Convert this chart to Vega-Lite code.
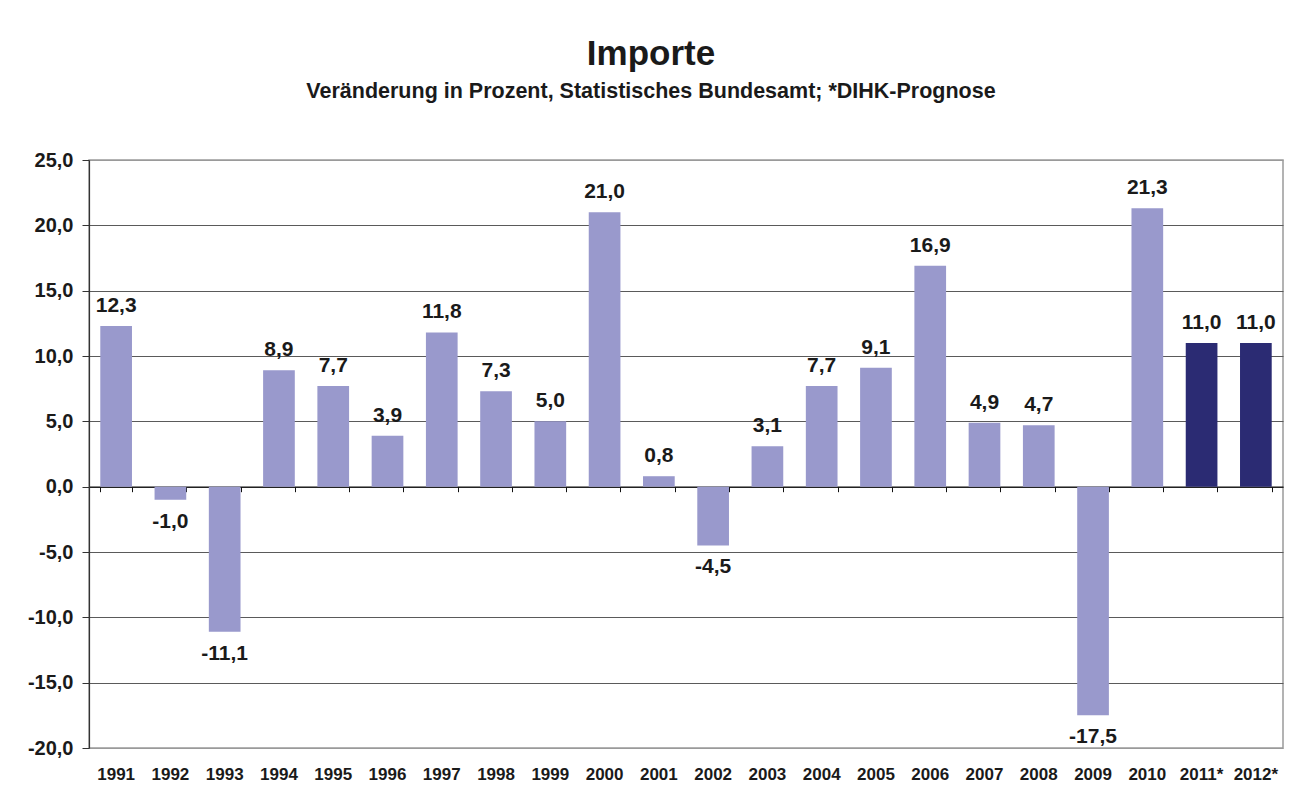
{
  "$schema": "https://vega.github.io/schema/vega-lite/v6.json",
  "width": 1194,
  "height": 588,
  "autosize": "none",
  "padding": {"left": 89, "top": 160, "right": 16, "bottom": 52},
  "background": "white",
  "config": {
    "font": "Liberation Sans",
    "locale": {"number": {"decimal": ",", "thousands": ".", "grouping": [3], "currency": ["", " €"], "minus": "-"}},
    "view": {"stroke": "#9a9a9a", "strokeWidth": 1.5}
  },
  "title": {
    "text": "Importe",
    "subtitle": "Veränderung in Prozent, Statistisches Bundesamt; *DIHK-Prognose",
    "anchor": "middle",
    "frame": "group",
    "dx": -35,
    "offset": 48,
    "fontSize": 35,
    "fontWeight": "bold",
    "color": "#1a1a1a",
    "subtitleFontSize": 21.5,
    "subtitleFontWeight": "bold",
    "subtitleColor": "#1a1a1a",
    "subtitlePadding": 9
  },
  "data": {
    "values": [
      {"jahr": "1991", "wert": 12.3, "art": "Ist"},
      {"jahr": "1992", "wert": -1.0, "art": "Ist"},
      {"jahr": "1993", "wert": -11.1, "art": "Ist"},
      {"jahr": "1994", "wert": 8.9, "art": "Ist"},
      {"jahr": "1995", "wert": 7.7, "art": "Ist"},
      {"jahr": "1996", "wert": 3.9, "art": "Ist"},
      {"jahr": "1997", "wert": 11.8, "art": "Ist"},
      {"jahr": "1998", "wert": 7.3, "art": "Ist"},
      {"jahr": "1999", "wert": 5.0, "art": "Ist"},
      {"jahr": "2000", "wert": 21.0, "art": "Ist"},
      {"jahr": "2001", "wert": 0.8, "art": "Ist"},
      {"jahr": "2002", "wert": -4.5, "art": "Ist"},
      {"jahr": "2003", "wert": 3.1, "art": "Ist"},
      {"jahr": "2004", "wert": 7.7, "art": "Ist"},
      {"jahr": "2005", "wert": 9.1, "art": "Ist"},
      {"jahr": "2006", "wert": 16.9, "art": "Ist"},
      {"jahr": "2007", "wert": 4.9, "art": "Ist"},
      {"jahr": "2008", "wert": 4.7, "art": "Ist"},
      {"jahr": "2009", "wert": -17.5, "art": "Ist"},
      {"jahr": "2010", "wert": 21.3, "art": "Ist"},
      {"jahr": "2011*", "wert": 11.0, "art": "Prognose"},
      {"jahr": "2012*", "wert": 11.0, "art": "Prognose"}
    ]
  },
  "encoding": {
    "x": {
      "field": "jahr",
      "type": "ordinal",
      "sort": null,
      "scale": {"paddingInner": 0.416, "paddingOuter": 0.208}
    },
    "y": {
      "field": "wert",
      "type": "quantitative",
      "scale": {"domain": [-20, 25], "nice": false, "zero": false},
      "axis": {
        "title": null,
        "values": [-20, -15, -10, -5, 0, 5, 10, 15, 20, 25],
        "format": ".1f",
        "labelFontSize": 20,
        "labelFontWeight": "bold",
        "labelColor": "#1a1a1a",
        "labelPadding": 9,
        "tickSize": 7,
        "tickColor": "#333333",
        "domainColor": "#333333",
        "domainWidth": 1.2,
        "gridColor": {"condition": {"test": "datum.value == 25 || datum.value == -20", "value": "#9a9a9a"}, "value": "#5a5a5a"},
        "gridWidth": 1
      }
    }
  },
  "layer": [
    {
      "mark": {"type": "bar"},
      "encoding": {
        "x": {
          "field": "jahr",
          "type": "ordinal",
          "sort": null,
          "axis": {
            "title": null,
            "orient": "bottom",
            "labelAngle": 0,
            "labelFontSize": 17,
            "labelFontWeight": "bold",
            "labelColor": "#1a1a1a",
            "ticks": false,
            "domain": false,
            "labelPadding": 18
          }
        },
        "color": {
          "field": "art",
          "type": "nominal",
          "scale": {"domain": ["Ist", "Prognose"], "range": ["#9999cc", "#2b2b73"]},
          "legend": null
        }
      }
    },
    {
      "transform": [{"filter": "datum.wert >= 0"}],
      "mark": {"type": "text", "baseline": "alphabetic", "dy": -14, "fontSize": 21, "fontWeight": "bold", "color": "#1a1a1a"},
      "encoding": {
        "x": {
          "field": "jahr",
          "type": "ordinal",
          "sort": null,
          "axis": {
            "title": null,
            "orient": "bottom",
            "labels": false,
            "ticks": true,
            "tickBand": "extent",
            "tickSize": 5,
            "tickColor": "#111111",
            "domain": true,
            "domainColor": "#111111",
            "domainWidth": 1.2,
            "offset": -261.3
          }
        },
        "text": {"field": "wert", "type": "quantitative", "format": ".1f"}
      }
    },
    {
      "transform": [{"filter": "datum.wert < 0"}],
      "mark": {"type": "text", "baseline": "alphabetic", "dy": 28, "fontSize": 21, "fontWeight": "bold", "color": "#1a1a1a"},
      "encoding": {
        "x": {"field": "jahr", "type": "ordinal", "sort": null, "axis": null},
        "text": {"field": "wert", "type": "quantitative", "format": ".1f"}
      }
    }
  ],
  "resolve": {"axis": {"x": "independent"}}
}
